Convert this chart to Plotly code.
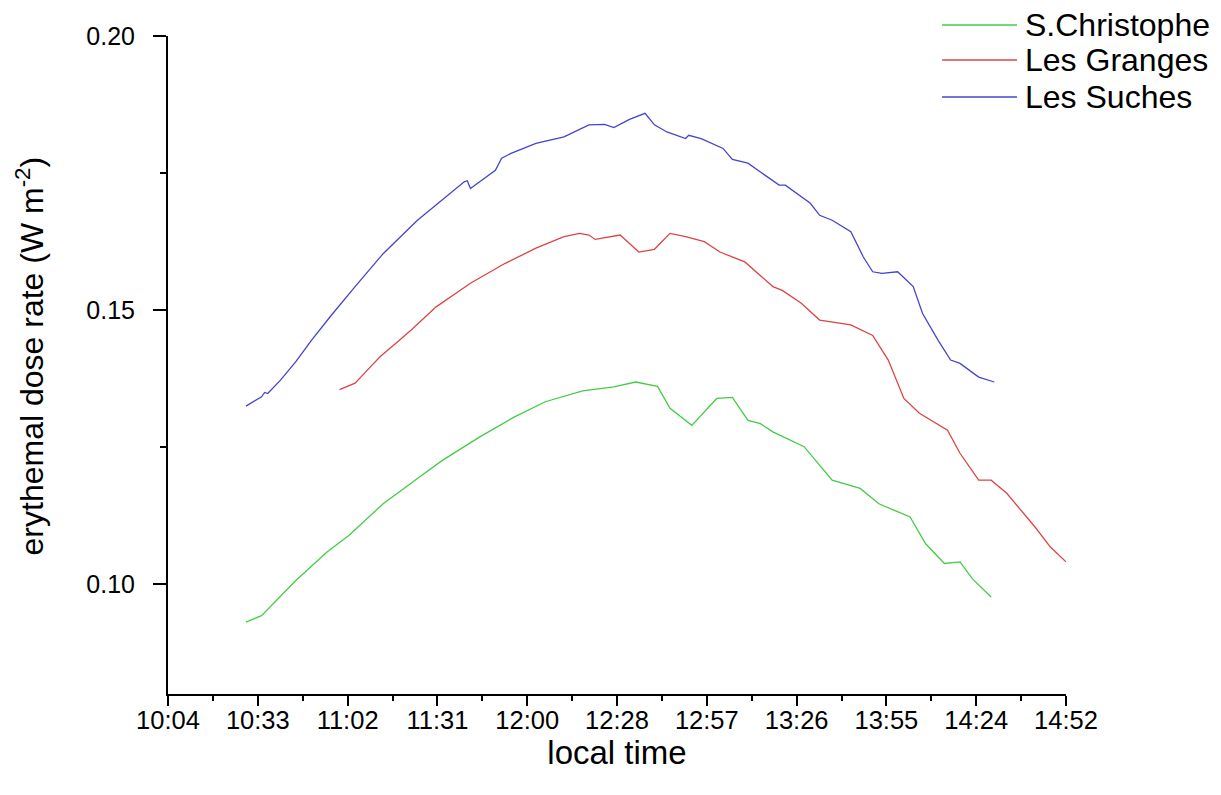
import numpy as np
import plotly.graph_objects as go

# ---- data ----
green_time = ["10:29","10:34","10:45","10:55","11:02","11:13","11:24","11:32","11:44","11:55",
              "12:05","12:17","12:27","12:34","12:41","12:45","12:52","13:00","13:05","13:10",
              "13:14","13:18","13:28","13:37","13:46","13:52","13:57","14:02","14:07","14:13",
              "14:18","14:22","14:28"]
green_val = [0.0931,0.0943,0.1007,0.1059,0.1089,0.1147,0.1193,0.1226,0.1269,0.1305,
             0.1333,0.1353,0.1360,0.1369,0.1361,0.1321,0.1290,0.1339,0.1341,0.1299,
             0.1293,0.1278,0.1251,0.1190,0.1175,0.1147,0.1135,0.1123,0.1074,0.1038,
             0.1041,0.1010,0.0977]

red_time = ["10:59","11:04","11:09","11:12","11:17","11:22","11:30","11:41","11:52","12:02",
            "12:11","12:16","12:19","12:21","12:29","12:32","12:35","12:40","12:45","12:50",
            "12:56","13:01","13:09","13:18","13:21","13:27","13:33","13:43","13:50","13:55",
            "14:00","14:05","14:14","14:18","14:24","14:28","14:33","14:42","14:47","14:52"]
red_val = [0.1355,0.1367,0.1397,0.1415,0.1439,0.1464,0.1506,0.1549,0.1585,0.1613,
           0.1634,0.1640,0.1637,0.1629,0.1637,0.1622,0.1606,0.1611,0.1640,0.1634,
           0.1625,0.1606,0.1588,0.1543,0.1536,0.1513,0.1482,0.1473,0.1454,0.1409,
           0.1339,0.1312,0.1281,0.1239,0.1190,0.1190,0.1166,0.1105,0.1068,0.1041]

blue_time = ["10:29","10:34","10:35","10:36","10:40","10:45","10:50","10:56","11:04","11:13",
             "11:24","11:32","11:39","11:40","11:41","11:49","11:51","11:54","12:02","12:11",
             "12:19","12:24","12:27","12:32","12:37","12:40","12:44","12:50","12:51","12:55",
             "13:02","13:05","13:10","13:14","13:20","13:22","13:27","13:30","13:33","13:37",
             "13:43","13:47","13:50","13:53","13:58","14:03","14:06","14:11","14:15","14:18",
             "14:24","14:29"]
blue_val = [0.1325,0.1342,0.1350,0.1348,0.1372,0.1406,0.1445,0.1488,0.1543,0.1603,
            0.1664,0.1701,0.1734,0.1736,0.1722,0.1755,0.1777,0.1786,0.1804,0.1816,
            0.1838,0.1839,0.1833,0.1848,0.1859,0.1838,0.1825,0.1813,0.1819,0.1813,
            0.1795,0.1775,0.1768,0.1752,0.1728,0.1728,0.1707,0.1695,0.1673,0.1664,
            0.1643,0.1597,0.1570,0.1567,0.1570,0.1543,0.1494,0.1445,0.1409,0.1403,
            0.1378,0.1369]

series_names = ["S.Christophe", "Les Granges", "Les Suches"]
series_colors = ["#44cc44", "#dd4444", "#4444cc"]

x_tick_labels = ["10:04","10:33","11:02","11:31","12:00","12:28","12:57","13:26","13:55","14:24","14:52"]
y_tick_vals = [0.10, 0.15, 0.20]
y_tick_labels = ["0.10", "0.15", "0.20"]


def to_min(t):
    h, m = t.split(":")
    return int(h) * 60 + int(m)


x_start = to_min(x_tick_labels[0])
x_end = to_min(x_tick_labels[-1])
major = np.linspace(x_start, x_end, len(x_tick_labels))
minor = (major[:-1] + major[1:]) / 2

FONT = "Liberation Sans, Arial, sans-serif"

fig = go.Figure()
for name, color, tt, vv in zip(series_names, series_colors,
                               [green_time, red_time, blue_time],
                               [green_val, red_val, blue_val]):
    fig.add_trace(go.Scatter(x=[to_min(t) for t in tt], y=vv, mode="lines", name=name,
                             line=dict(color=color, width=1.3), showlegend=False))

# legend drawn by hand (long sample lines like the original)
leg_y = [1.0167, 0.9635, 0.9073]
for name, color, ly in zip(series_names, series_colors, leg_y):
    fig.add_shape(type="line", xref="paper", yref="paper", x0=0.862, x1=0.9454, y0=ly, y1=ly,
                  line=dict(color=color, width=1.3))
    fig.add_annotation(xref="paper", yref="paper", x=0.952, y=ly, text=name, showarrow=False,
                       xanchor="left", yanchor="middle", font=dict(size=32, color="black", family=FONT))

# page body has an 8px margin, so the figure is placed 8px in from the window edge
fig.update_layout(
    width=1213, height=787,
    margin=dict(l=160, r=155, t=28, b=101),
    paper_bgcolor="white", plot_bgcolor="white",
    font=dict(family=FONT, color="black"),
    xaxis=dict(range=[x_start, x_end], tickmode="array", tickvals=list(major), ticktext=x_tick_labels,
               showgrid=False, zeroline=False, showline=True, linecolor="black", linewidth=2,
               ticks="outside", ticklen=10, tickwidth=2, tickcolor="black",
               tickfont=dict(size=25.5), ticklabelstandoff=-8,
               minor=dict(tickmode="array", tickvals=list(minor), ticks="outside", ticklen=5,
                          tickwidth=2, tickcolor="black", showgrid=False),
               title=dict(text="local time", font=dict(size=33), standoff=6)),
    yaxis=dict(range=[0.08, 0.20], tickmode="array", tickvals=y_tick_vals, ticktext=y_tick_labels,
               showgrid=False, zeroline=False, showline=True, linecolor="black", linewidth=2,
               ticks="outside", ticklen=13, tickwidth=2, tickcolor="black",
               tickfont=dict(size=25), ticklabelstandoff=13,
               minor=dict(tickmode="array", tickvals=[0.125, 0.175], ticks="outside", ticklen=6,
                          tickwidth=2, tickcolor="black", showgrid=False),
               title=dict(text="&nbsp;&nbsp;erythemal dose rate (W m<sup>-2</sup>)",
                          font=dict(size=32), standoff=33)),
)

fig.write_html("out.html")
